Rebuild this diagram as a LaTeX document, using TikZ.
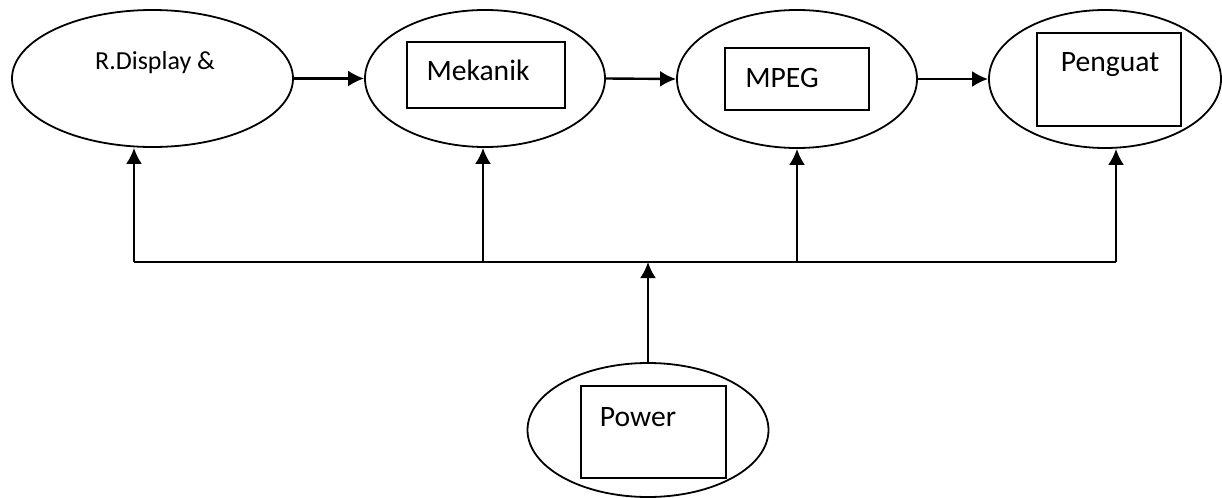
\documentclass[tikz,border=0pt]{standalone}
\usepackage{fontspec}
\setmainfont{Carlito}
\usetikzlibrary{shapes.geometric,arrows.meta}

\begin{document}
\begin{tikzpicture}[x=0.5pt, y=-0.5pt, >={Latex[length=8pt,width=8pt]},
  blok/.style={draw, ellipse, line width=0.9pt, inner sep=0pt},
  kotak/.style={draw, rectangle, line width=0.9pt, inner sep=0pt},
  teks/.style={font=\fontsize{14.8}{18}\selectfont, inner sep=0pt},
  panah/.style={->, line width=1.2pt}]

  \useasboundingbox (0,0) rectangle (1222,498);

  % Draw the ellipses
  \node[blok, minimum width=140.5pt, minimum height=68.5pt] (disp) at (152.5,78.5) {};
  \node[blok, minimum width=120pt, minimum height=68.5pt] (mek) at (485,78.5) {};
  \node[blok, minimum width=120pt, minimum height=69pt] (mpeg) at (797,79) {};
  \node[blok, minimum width=116pt, minimum height=69pt] (peng) at (1105,79) {};
  \node[blok, minimum width=120.5pt, minimum height=67pt] (pow) at (648,430) {};

  % Draw the boxes inside
  \node[kotak, minimum width=79pt, minimum height=33pt] (mekbox) at (486,75) {};
  \node[kotak, minimum width=72pt, minimum height=31pt] (mpegbox) at (797,79) {};
  \node[kotak, minimum width=72pt, minimum height=46.5pt] (pengbox) at (1109,79.5) {};
  \node[kotak, minimum width=72.5pt, minimum height=46pt] (powbox) at (653.5,432) {};

  % Labels
  \node[teks, font=\fontsize{13}{16}\selectfont] (displbl) at (155,63) {R.Display \&};
  \node[teks] (meklbl) at (478,70) {Mekanik};
  \node[teks] (mpeglbl) at (782,78) {MPEG};
  \node[teks] (penglbl) at (1110,65) {Penguat};
  \node[teks] (powlbl) at (638,417) {Power};

  % Signal path
  \draw[panah] (disp.east) -- (mek.west);
  \draw[panah] (mek.east) -- (mpeg.west);
  \draw[panah] (mpeg.east) -- (peng.west);

  % Power bus
  \coordinate (b1) at (134,262);
  \coordinate (b2) at (483,262);
  \coordinate (b3) at (797,262);
  \coordinate (b4) at (1116,262);
  \coordinate (bp) at (648,262);
  \draw[line width=1.2pt] (b1) -- (b4);
  \draw[panah] (b1) -- (b1 |- disp.south);
  \draw[panah] (b2) -- (b2 |- mek.south);
  \draw[panah] (b3) -- (b3 |- mpeg.south);
  \draw[panah] (b4) -- (b4 |- peng.south);
  \draw[panah] (pow.north) -- (bp);

\end{tikzpicture}
\end{document}
